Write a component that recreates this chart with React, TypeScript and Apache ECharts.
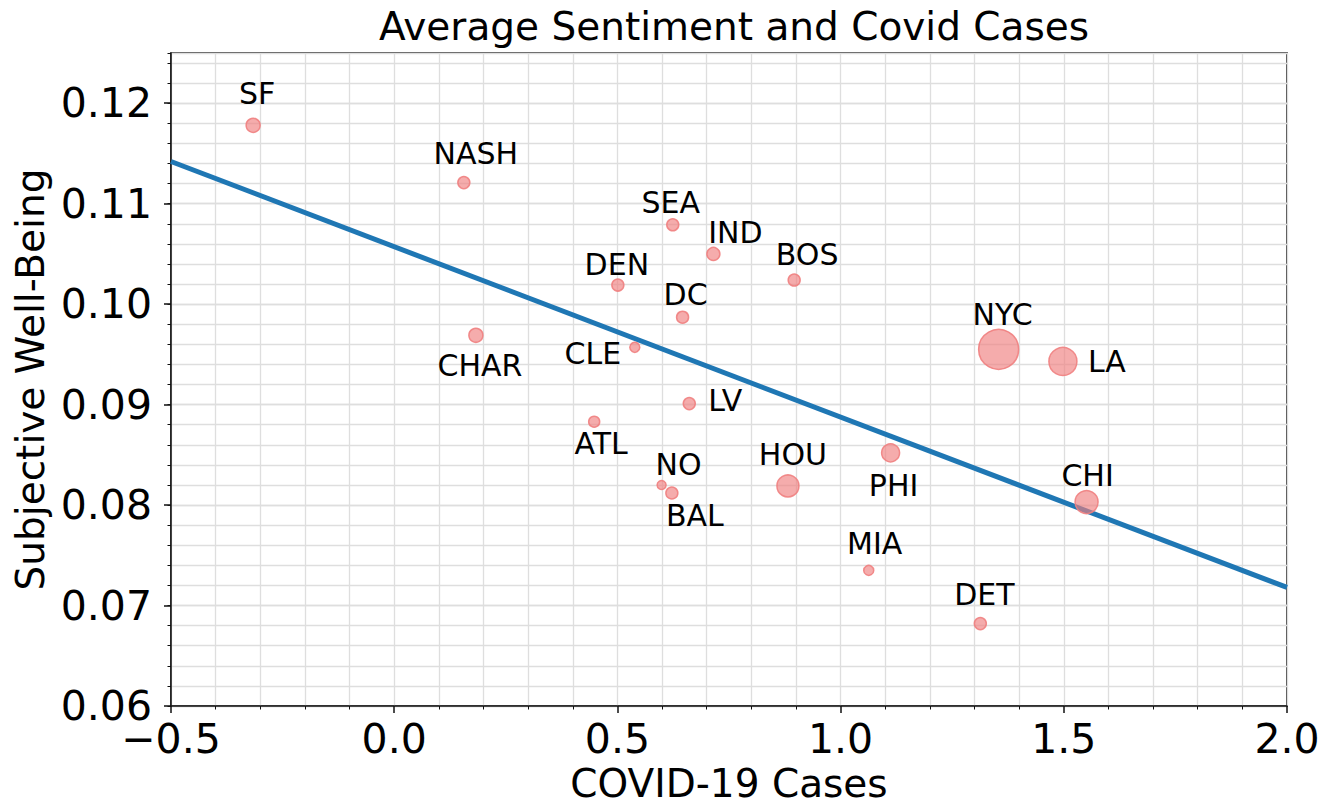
import React, { useEffect, useRef } from "react";
import * as echarts from "echarts";

// ---- data ----
const cities = ["SF", "NASH", "SEA", "IND", "DEN", "BOS", "DC", "CHAR", "CLE", "NYC", "LA", "LV", "ATL", "PHI", "NO", "BAL", "HOU", "CHI", "MIA", "DET"];
const covidCases = [-0.316, 0.156, 0.624, 0.715, 0.501, 0.896, 0.646, 0.183, 0.539, 1.354, 1.498, 0.661, 0.448, 1.112, 0.599, 0.622, 0.882, 1.551, 1.063, 1.313];
const wellBeing = [0.1178, 0.1121, 0.1079, 0.105, 0.1019, 0.1024, 0.0987, 0.0969, 0.0957, 0.0955, 0.0943, 0.0901, 0.0883, 0.0852, 0.082, 0.0812, 0.0819, 0.0803, 0.0735, 0.0682];
const bubbleDiameter = [14, 12, 12, 13, 12, 12, 12, 14, 10, 40, 28, 12, 11, 18, 9, 12, 22, 23, 10, 12];
const fitX = [-0.5, 2.0];
const fitY = [0.1142, 0.0718];
const xTicks = [-0.5, 0.0, 0.5, 1.0, 1.5, 2.0];
const yTicks = [0.06, 0.07, 0.08, 0.09, 0.1, 0.11, 0.12];

// label placement (offset of label centre from point centre, px)
const labelOffset: Record<string, [number, number]> = {
  SF: [4, -32], NASH: [12, -29], SEA: [-2, -22], IND: [22, -21], DEN: [-1, -21],
  BOS: [13, -26], DC: [3, -23], CHAR: [4, 30], CLE: [-42, 6], NYC: [4, -35],
  LA: [44, 0], LV: [36, -3], ATL: [7, 22], PHI: [3, 33], NO: [17, -20],
  BAL: [23, 22], HOU: [5, -31], CHI: [1, -27], MIA: [6, -27], DET: [4, -29],
};

const FONT = "DejaVu Sans";

export default function App() {
  const ref = useRef<HTMLDivElement>(null);
  useEffect(() => {
    if (!ref.current) return;
    const chart = echarts.init(ref.current, null, { renderer: "svg" });
    const scatterData = cities.map((c, i) => ({
      name: c,
      value: [covidCases[i], wellBeing[i]],
      symbolSize: bubbleDiameter[i],
      label: { offset: labelOffset[c] },
    }));
    const gridColor = "#dedede";
    chart.setOption({
      animation: false,
      backgroundColor: "#ffffff",
      textStyle: { fontFamily: FONT },
      title: {
        text: "Average Sentiment and Covid Cases",
        left: 729,
        top: 2,
        textAlign: "center",
        textStyle: { fontFamily: FONT, fontSize: 39, fontWeight: "normal", color: "#000" },
      },
      grid: {
        left: 171,
        right: 53,
        top: 53,
        bottom: 103,
        show: true,
        borderColor: "#111",
        borderWidth: 1.5,
        backgroundColor: "transparent",
      },
      xAxis: {
        type: "value",
        min: xTicks[0],
        max: xTicks[xTicks.length - 1],
        interval: 0.5,
        name: "COVID-19 Cases",
        nameLocation: "middle",
        nameGap: 58,
        nameTextStyle: { fontFamily: FONT, fontSize: 39, color: "#000" },
        axisLine: { show: true, onZero: false, lineStyle: { color: "#111", width: 1.5 } },
        axisTick: { show: true, inside: false, length: 7, lineStyle: { color: "#111", width: 1.5 } },
        minorTick: { show: true, splitNumber: 5, length: 3.5, lineStyle: { color: "#111", width: 1 } },
        axisLabel: {
          margin: 12,
          fontFamily: FONT,
          fontSize: 41,
          color: "#000",
          formatter: (v: number) => (v < 0 ? "\u2212" + Math.abs(v).toFixed(1) : v.toFixed(1)),
        },
        splitLine: { show: true, lineStyle: { color: gridColor, width: 1.3 } },
        minorSplitLine: { show: true, lineStyle: { color: gridColor, width: 1.3 } },
      },
      yAxis: [
        {
          type: "value",
          min: yTicks[0],
          max: 0.125,
          interval: 0.01,
          name: "Subjective Well-Being",
          nameLocation: "middle",
          nameGap: 108,
          nameTextStyle: { fontFamily: FONT, fontSize: 39, color: "#000" },
          axisLine: { show: true, onZero: false, lineStyle: { color: "#111", width: 1.5 } },
          axisTick: { show: true, inside: false, length: 7, customValues: yTicks, lineStyle: { color: "#111", width: 1.5 } },
          axisLabel: {
            margin: 19,
            fontFamily: FONT,
            fontSize: 41,
            color: "#000",
            customValues: yTicks,
            formatter: (v: number) => v.toFixed(2),
          },
          splitLine: { show: true, lineStyle: { color: gridColor, width: 1.3 } },
        },
        {
          type: "value",
          min: yTicks[0],
          max: 0.125,
          interval: 0.002,
          position: "left",
          axisLine: { show: false, onZero: false },
          axisTick: { show: true, inside: false, length: 3.5, lineStyle: { color: "#111", width: 1 } },
          axisLabel: { show: false },
          splitLine: { show: true, lineStyle: { color: gridColor, width: 1.3 } },
        },
      ],
      series: [
        {
          type: "line",
          data: fitX.map((x, i) => [x, fitY[i]]),
          showSymbol: false,
          symbol: "none",
          lineStyle: { color: "#1f77b4", width: 5 },
          z: 3,
          silent: true,
        },
        {
          type: "scatter",
          data: scatterData,
          z: 4,
          itemStyle: {
            opacity: 1,
            color: "rgba(240,128,128,0.65)",
            borderColor: "rgba(240,128,128,0.9)",
            borderWidth: 1.5,
          },
          label: {
            show: true,
            position: "inside",
            formatter: (p: any) => p.name,
            fontFamily: FONT,
            fontSize: 30,
            color: "#000",
            opacity: 1,
            textBorderWidth: 0,
            align: "center",
            verticalAlign: "middle",
          },
        },
      ],
    });
    return () => chart.dispose();
  }, []);
  return (
    <div
      ref={ref}
      style={{ position: "fixed", left: 0, top: 0, width: 1340, height: 809, background: "#fff" }}
    />
  );
}
